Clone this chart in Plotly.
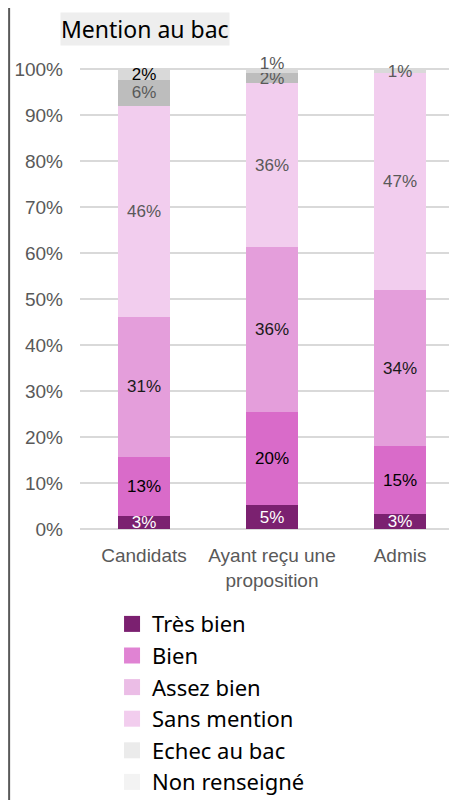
"""Mention au bac : répartition des candidats, propositions et admis."""

import plotly.graph_objects as go

categories = ["Candidats", "Ayant reçu une<br>proposition", "Admis"]
mentions = ["Très bien", "Bien", "Assez bien", "Sans mention", "Echec au bac", "Non renseigné"]

tres_bien = [2.8, 5.2, 3.3]
bien = [12.8, 20.2, 14.7]
assez_bien = [30.6, 35.9, 33.9]
sans_mention = [45.9, 35.7, 47.2]
echec = [5.6, 2.1, 0.0]
non_renseigne = [2.3, 0.9, 0.9]

y_ticks = [0, 10, 20, 30, 40, 50, 60, 70, 80, 90, 100]
y_tick_labels = [f"{v}%" for v in y_ticks]

series = [tres_bien, bien, assez_bien, sans_mention, echec, non_renseigne]
bar_colors = ["#7b2170", "#d96bc9", "#e49edb", "#f2cdee", "#bdbdbd", "#d9d9d9"]
legend_colors = ["#7b2070", "#e083d3", "#ebbde6", "#f2cdee", "#ebebeb", "#f3f3f3"]
label_colors = [
    "#ffffff",
    "#000000",
    "#1a1a1a",
    "#595959",
    "#595959",
    ["#000000", "#595959", "#595959"],
]
# the "Non renseigné" label of the middle bar sits just above the bar
label_on_top = [False, True, False]


def pct(v):
    return f"{round(v)}%" if v > 0 else ""


fig = go.Figure()
for i, (name, values, color, tcolor) in enumerate(zip(mentions, series, bar_colors, label_colors)):
    last = i == len(series) - 1
    text = [pct(v) if not (last and top) else "" for v, top in zip(values, label_on_top)]
    fig.add_trace(
        go.Bar(
            x=categories,
            y=values,
            name=name,
            marker=dict(color=color, line=dict(width=0)),
            text=text,
            textposition="inside",
            insidetextanchor="middle",
            textangle=0,
            textfont=dict(family="Liberation Sans, Arial", size=17, color=tcolor),
            cliponaxis=False,
            showlegend=False,
            hovertemplate="%{x}<br>" + name + " : %{y:.0f}%<extra></extra>",
        )
    )

# label drawn one segment-height above the top of the stack
totals = [sum(col) for col in zip(*series)]
fig.add_trace(
    go.Scatter(
        x=categories,
        y=[t + v for t, v in zip(totals, non_renseigne)],
        mode="text",
        text=[pct(v) if top else "" for v, top in zip(non_renseigne, label_on_top)],
        textposition="middle center",
        textfont=dict(family="Liberation Sans, Arial", size=17, color="#595959"),
        cliponaxis=False,
        showlegend=False,
        hoverinfo="skip",
    )
)

# legend entries use the lighter swatches of the original
for name, color in zip(mentions, legend_colors):
    fig.add_trace(
        go.Scatter(
            x=[None],
            y=[None],
            mode="markers",
            name=name,
            marker=dict(symbol="square", size=20, color=color),
            showlegend=True,
        )
    )

fig.update_layout(
    width=449,
    height=792,
    barmode="stack",
    bargap=0.594,
    template="none",
    plot_bgcolor="white",
    paper_bgcolor="white",
    margin=dict(l=72, r=0, t=52, b=271, autoexpand=False),
    font=dict(family="Liberation Sans, Arial", size=18, color="#595959"),
    uniformtext=dict(minsize=17, mode="show"),
    legend=dict(
        orientation="v",
        x=0.085,
        xanchor="left",
        y=-0.158,
        yanchor="top",
        font=dict(family="Noto Sans", size=22, color="#000000"),
        itemsizing="trace",
        traceorder="normal",
        bgcolor="rgba(0,0,0,0)",
    ),
    annotations=[
        dict(
            text="Mention au bac",
            xref="paper",
            yref="paper",
            x=-0.053,
            y=1.0,
            yshift=31,
            xanchor="left",
            yanchor="middle",
            showarrow=False,
            font=dict(family="Noto Sans", size=23, color="#000000"),
            bgcolor="#eeeeee",
            borderpad=0,
        )
    ],
    shapes=[
        dict(
            type="line",
            xref="paper",
            yref="paper",
            x0=-0.188,
            x1=-0.188,
            y0=-1.0,
            y1=1.2,
            line=dict(color="#595959", width=2),
        )
    ],
)

fig.update_xaxes(
    range=[-0.5, 2.445],
    showgrid=False,
    showline=False,
    zeroline=False,
    ticks="",
    tickangle=0,
    ticklabelstandoff=13,
    tickfont=dict(family="Liberation Sans, Arial", size=19, color="#595959"),
)
fig.update_yaxes(
    range=[0, 102],
    tickmode="array",
    tickvals=y_ticks,
    ticktext=y_tick_labels,
    showgrid=True,
    gridcolor="#d9d9d9",
    gridwidth=1.5,
    zeroline=True,
    zerolinecolor="#d9d9d9",
    zerolinewidth=1.5,
    showline=False,
    ticks="",
    ticklabelstandoff=16,
    tickfont=dict(family="Liberation Sans, Arial", size=19, color="#595959"),
)

fig.write_html("out.html")
